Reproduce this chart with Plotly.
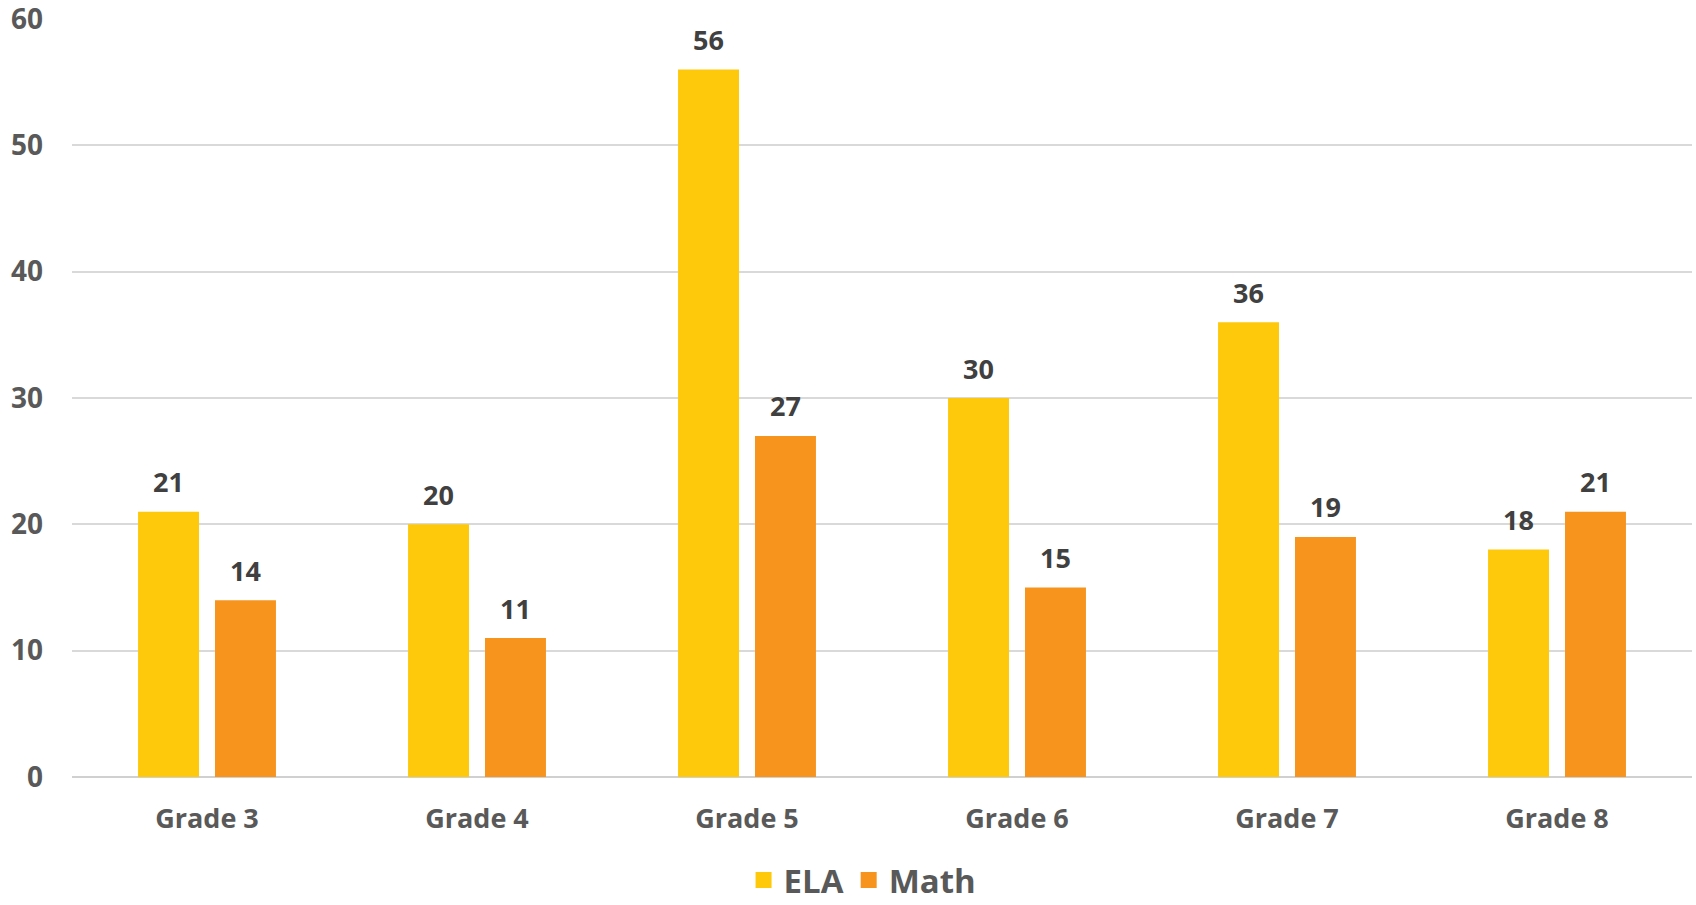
import plotly.graph_objects as go

categories = ["Grade 3", "Grade 4", "Grade 5", "Grade 6", "Grade 7", "Grade 8"]
ela = [21, 20, 56, 30, 36, 18]
math = [14, 11, 27, 15, 19, 21]
y_ticks = [0, 10, 20, 30, 40, 50, 60]

ELA_COLOR = "#FEC90B"
MATH_COLOR = "#F7941E"
AXIS_TEXT = "#595959"
LABEL_TEXT = "#404040"
FONT = "Open Sans"

fig = go.Figure()
fig.add_trace(go.Bar(name="ELA", x=categories, y=ela, marker_color=ELA_COLOR,
                     marker_line_width=0, showlegend=False))
fig.add_trace(go.Bar(name="Math", x=categories, y=math, marker_color=MATH_COLOR,
                     marker_line_width=0, showlegend=False))

# legend proxies (square markers)
for name, col in [("ELA", ELA_COLOR), ("Math", MATH_COLOR)]:
    fig.add_trace(go.Scatter(name=name, x=[None], y=[None], mode="markers",
                             marker=dict(symbol="square", size=24, color=col)))

# value labels above bars
cat_w = (1692 - 72) / len(categories)
slot = cat_w * (1 - 0.43) / 2
for series, sign in [(ela, -1), (math, 1)]:
    for c, v in zip(categories, series):
        fig.add_annotation(x=c, y=v, text=str(v), showarrow=False,
                           xshift=sign * slot / 2, yshift=30, yanchor="middle",
                           font=dict(family=FONT, size=27, color=LABEL_TEXT, weight="bold"))

fig.update_layout(
    width=1696, height=905,
    margin=dict(l=72, r=4, t=19, b=128, autoexpand=False),
    paper_bgcolor="white", plot_bgcolor="white",
    barmode="group", bargap=0.43, bargroupgap=0.208,
    font=dict(family=FONT, color=AXIS_TEXT, weight="bold"),
    legend=dict(orientation="h", x=0.488, xanchor="center", y=-0.136, yanchor="middle",
                font=dict(size=33, family=FONT, color=AXIS_TEXT, weight="bold"),
                itemsizing="trace"),
    xaxis=dict(showgrid=False, showline=False, ticks="", ticklabelstandoff=23,
               tickfont=dict(size=27, family=FONT, color=AXIS_TEXT, weight="bold")),
    yaxis=dict(range=[0, 60], tickvals=y_ticks, showgrid=True, gridcolor="#D9D9D9",
               gridwidth=1.5, zeroline=True, zerolinecolor="#D0D0D0", zerolinewidth=2,
               showline=False, ticks="", ticklabelstandoff=28, ticklabeloverflow="allow",
               tickfont=dict(size=28, family=FONT, color=AXIS_TEXT, weight="bold")),
)

fig.write_html("out.html", config={"displayModeBar": False},
               post_script="document.body.style.margin='0';document.body.style.overflow='hidden';")
